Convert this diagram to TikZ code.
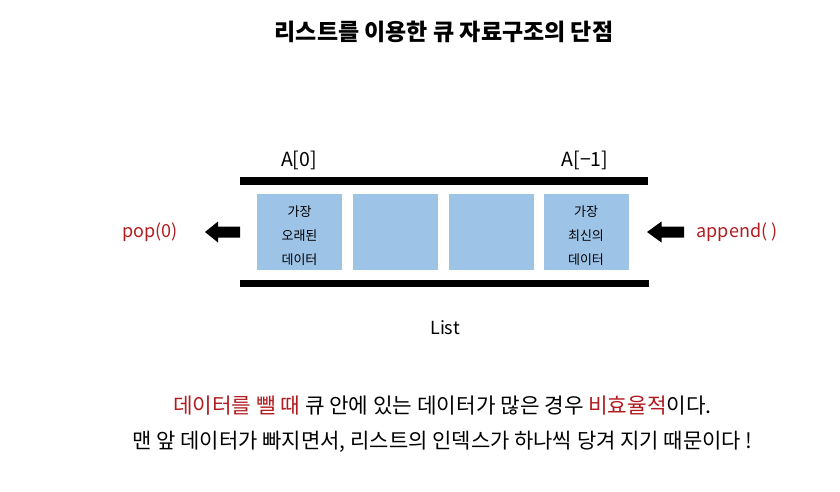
\documentclass[tikz,border=0pt]{standalone}
\usepackage{fontspec}
\setmainfont{Noto Sans CJK KR}
\definecolor{boxblue}{RGB}{157,195,230}
\definecolor{darkred}{RGB}{178,28,32}
\begin{document}
\begin{tikzpicture}[x=1pt,y=-1pt,
  cell/.style={fill=boxblue,draw=none,minimum width=85pt,minimum height=76pt,inner sep=0pt},
  celltext/.style={inner sep=0pt,font=\fontsize{13}{24}\selectfont,align=center},
  lbl/.style={inner sep=0pt,font=\fontsize{19.5}{22}\selectfont},
  redlbl/.style={lbl,text=darkred,font=\fontsize{18}{22}\selectfont},
  bar/.style={fill=black},
  blockarrow/.style={fill=black}
]
\useasboundingbox (0,0) rectangle (840,491);
\fill[white] (0,0) rectangle (840,491);
\node[inner sep=0pt,font=\fontsize{23}{26}\selectfont\bfseries] (title) at (444,32) {리스트를 이용한 큐 자료구조의 단점};
\node[lbl] (a0) at (299,160) {A[0]};
\node[lbl] (am1) at (585,160) {A[−1]};
\fill[bar] (240,177) rectangle (648,185);
\fill[bar] (240,280) rectangle (649,287);
\node[cell] (c1) at (299.5,232) {};
\node[cell] (c2) at (395,232) {};
\node[cell] (c3) at (491,232) {};
\node[cell] (c4) at (586,232) {};
\node[celltext] (t1) at (299.5,235.5) {가장\\오래된\\데이터};
\node[celltext] (t4) at (586,235.5) {가장\\최신의\\데이터};
\fill[blockarrow] (205,232) -- (218,221.5) -- (218,226.5) -- (240,226.5) -- (240,237.5) -- (218,237.5) -- (218,242.5) -- cycle;
\fill[blockarrow] (647,232) -- (661.5,221.5) -- (661.5,226.5) -- (684,226.5) -- (684,237.5) -- (661.5,237.5) -- (661.5,242.5) -- cycle;
\node[redlbl] (pop) at (150,232) {pop(0)};
\node[redlbl] (app) at (737,232) {append( )};
\node[lbl,font=\fontsize{18}{22}\selectfont] (list) at (445,328) {List};
\node[lbl,font=\fontsize{21.3}{24}\selectfont] (l1) at (442.5,406) {\textcolor{darkred}{데이터를 뺄 때} 큐 안에 있는 데이터가 많은 경우 \textcolor{darkred}{비효율적}이다.};
\node[lbl,font=\fontsize{21}{24}\selectfont] (l2) at (442.5,442) {맨 앞 데이터가 빠지면서, 리스트의 인덱스가 하나씩 당겨 지기 때문이다 !};
\end{tikzpicture}
\end{document}
